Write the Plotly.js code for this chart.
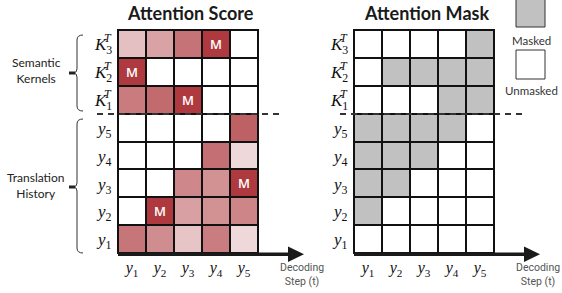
<!DOCTYPE html>
<html>
<head>
<meta charset="utf-8">
<script src="https://cdn.plot.ly/plotly-3.0.1.min.js"></script>
<style>html,body{margin:0;padding:0;background:#fff;}#chart{width:562px;height:293px;}</style>
</head>
<body>
<div id="chart"></div>
<script>
// ---------- data ----------
const colLabels = ['<i>y</i><sub>1</sub>','<i>y</i><sub>2</sub>','<i>y</i><sub>3</sub>','<i>y</i><sub>4</sub>','<i>y</i><sub>5</sub>'];
const rowBase = ['K','K','K','y','y','y','y','y'];
const rowSub  = ['3','2','1','5','4','3','2','1'];
const rowSup  = ['T','T','T','','','','',''];
// attention score (rows top -> bottom: K3,K2,K1,y5,y4,y3,y2,y1)
const scoreZ = [
  [0.32, 0.47, 0.71, 1.00, 0.00],
  [1.00, 0.00, 0.00, 0.00, 0.00],
  [0.67, 0.75, 1.00, 0.00, 0.00],
  [0.00, 0.00, 0.00, 0.00, 0.80],
  [0.00, 0.00, 0.00, 0.73, 0.20],
  [0.00, 0.00, 0.61, 0.56, 1.00],
  [0.00, 1.00, 0.48, 0.56, 0.62],
  [0.70, 0.58, 0.30, 0.66, 0.20]
];
const scoreText = [
  ['','','','M',''],
  ['M','','','',''],
  ['','','M','',''],
  ['','','','',''],
  ['','','','',''],
  ['','','','','M'],
  ['','M','','',''],
  ['','','','','']
];
// attention mask (1 = masked)
const maskZ = [
  [0,0,0,0,1],
  [0,1,1,1,1],
  [0,0,0,1,1],
  [1,1,1,1,0],
  [1,1,1,0,0],
  [1,1,0,0,0],
  [1,0,0,0,0],
  [0,0,0,0,0]
];
const titles = ['Attention Score','Attention Mask'];
const groupLabels = ['Semantic<br>Kernels','Translation<br>History'];
const legendLabels = ['Masked','Unmasked'];
const stepLabel = 'Decoding<br>Step (t)';

// ---------- helpers ----------
const W = 562, H = 293;
const px = x => x / W;
const py = y => 1 - y / H;
const cols = [0,1,2,3,4];
const rows = [0,1,2,3,4,5,6,7];

const gridL = [118, 354];
const gridW = 140;
const gridTop = 30, gridBot = 253;

const traces = [
  {type:'heatmap', x: cols, y: rows, z: scoreZ, text: scoreText, texttemplate:'%{text}',
   textfont:{family:'Open Sans', size:13, color:'#ffffff', weight:600},
   colorscale:[[0,'#ffffff'],[1,'#ae3a3f']], zmin:0, zmax:1, showscale:false,
   xgap:2, ygap:2, xaxis:'x', yaxis:'y', hoverinfo:'skip'},
  {type:'heatmap', x: cols, y: rows, z: maskZ,
   colorscale:[[0,'#ffffff'],[1,'#c1c1c1']], zmin:0, zmax:1, showscale:false,
   xgap:2, ygap:2, xaxis:'x2', yaxis:'y2', hoverinfo:'skip'}
];

const axBase = {range:[-0.5,4.5], showgrid:false, zeroline:false, showline:true, mirror:true,
  linecolor:'#111', linewidth:1, ticks:'', tickvals: cols, ticktext: colLabels,
  tickfont:{family:'Liberation Serif', size:16, color:'#111'}, fixedrange:true};
const ayBase = {range:[7.5,-0.5], showgrid:false, zeroline:false, showline:true, mirror:true,
  linecolor:'#111', linewidth:1, showticklabels:false, ticks:'', fixedrange:true,
  domain:[py(gridBot), py(gridTop)]};

const annotations = [];
const shapes = [];

[0,1].forEach(g => {
  const yr = g === 0 ? 'y' : 'y2';
  // title
  annotations.push({xref:'paper', yref:'paper', x: px(gridL[g] + 72), y: py(13), text:'<b>'+titles[g]+'</b>',
    showarrow:false, xanchor:'center', yanchor:'middle',
    font:{family:'Lato', size:18, color:'#1a1a1a'}});
  // row labels
  const labRight = gridL[g] - 5;
  rows.forEach(r => {
    annotations.push({xref:'paper', yref:yr, x: px(labRight), y: r + 0.08,
      text:'<i>'+rowBase[r]+'</i><sub>'+rowSub[r]+'</sub>',
      showarrow:false, xanchor:'right', yanchor:'middle', borderpad:0,
      font:{family:'Liberation Serif', size:17, color:'#111'}});
    if (rowSup[r]) {
      annotations.push({xref:'paper', yref:yr, x: px(labRight), y: r - 0.2, text:'<i>'+rowSup[r]+'</i>',
        showarrow:false, xanchor:'right', yanchor:'middle', borderpad:0,
        font:{family:'Liberation Serif', size:12, color:'#111'}});
    }
  });
  // dashed separator
  const dx0 = g === 0 ? 97 : 340, dx1 = g === 0 ? 283 : 522;
  shapes.push({type:'line', xref:'paper', yref:'paper', x0:px(dx0), x1:px(dx1), y0:py(114), y1:py(114),
    line:{color:'#333', width:2, dash:'6px,5px'}});
  // bottom thick arrow axis
  const ax0 = gridL[g], tip = gridL[g] + 186;
  shapes.push({type:'line', xref:'paper', yref:'paper', x0:px(ax0), x1:px(tip - 14), y0:py(254.3), y1:py(254.3),
    line:{color:'#1a1a1a', width:3.5}});
  shapes.push({type:'path', xref:'paper', yref:'paper',
    path:`M ${px(tip-16)},${py(246.5)} L ${px(tip)},${py(254.3)} L ${px(tip-16)},${py(262)} Z`,
    fillcolor:'#1a1a1a', line:{color:'#1a1a1a', width:0}});
  annotations.push({xref:'paper', yref:'paper', x: px(tip - 2), y: py(274), text: stepLabel,
    showarrow:false, xanchor:'center', yanchor:'middle', align:'center',
    font:{family:'Roboto', size:10.5, color:'#555'}});
});

// group labels + braces
const braces = [[35, 111, 73], [119, 253, 187]];
const labelY = [70, 185];
braces.forEach((b, i) => {
  const [t, bt, m] = b;
  const xv = 77;
  shapes.push({type:'path', xref:'paper', yref:'paper',
    path:`M ${px(83)},${py(t)} Q ${px(xv)},${py(t)} ${px(xv)},${py(t+5)} L ${px(xv)},${py(m-4)} Q ${px(xv)},${py(m)} ${px(xv-4)},${py(m)} Q ${px(xv)},${py(m)} ${px(xv)},${py(m+4)} L ${px(xv)},${py(bt-5)} Q ${px(xv)},${py(bt)} ${px(83)},${py(bt)}`,
    line:{color:'#333', width:1}});
  shapes.push({type:'line', xref:'paper', yref:'paper', x0:px(69), x1:px(75), y0:py(m), y1:py(m),
    line:{color:'#222', width:3}});
  annotations.push({xref:'paper', yref:'paper', x: px(36), y: py(labelY[i]), text: groupLabels[i],
    showarrow:false, xanchor:'center', yanchor:'middle', align:'center',
    font:{family:'Lato', size:12, color:'#222'}});
});

// legend
shapes.push({type:'rect', xref:'paper', yref:'paper', x0:px(516), x1:px(545), y0:py(-1), y1:py(27),
  fillcolor:'#c1c1c1', line:{color:'#333', width:1}});
shapes.push({type:'rect', xref:'paper', yref:'paper', x0:px(516), x1:px(545), y0:py(50), y1:py(79),
  fillcolor:'#ffffff', line:{color:'#333', width:1}});
annotations.push({xref:'paper', yref:'paper', x: px(531), y: py(41), text: legendLabels[0],
  showarrow:false, xanchor:'center', yanchor:'middle', font:{family:'Lato', size:11.5, color:'#333'}});
annotations.push({xref:'paper', yref:'paper', x: px(531), y: py(91), text: legendLabels[1],
  showarrow:false, xanchor:'center', yanchor:'middle', font:{family:'Lato', size:11.5, color:'#333'}});

const layout = {
  width: W, height: H, margin:{l:0, r:0, t:0, b:0},
  paper_bgcolor:'#ffffff', plot_bgcolor:'#111111', showlegend:false,
  xaxis: Object.assign({}, axBase, {domain:[px(gridL[0]), px(gridL[0]+gridW)], anchor:'y'}),
  yaxis: Object.assign({}, ayBase, {anchor:'x'}),
  xaxis2: Object.assign({}, axBase, {domain:[px(gridL[1]), px(gridL[1]+gridW)], anchor:'y2'}),
  yaxis2: Object.assign({}, ayBase, {anchor:'x2'}),
  annotations: annotations, shapes: shapes
};

Plotly.newPlot('chart', traces, layout, {staticPlot:true, displayModeBar:false});
</script>
</body>
</html>
